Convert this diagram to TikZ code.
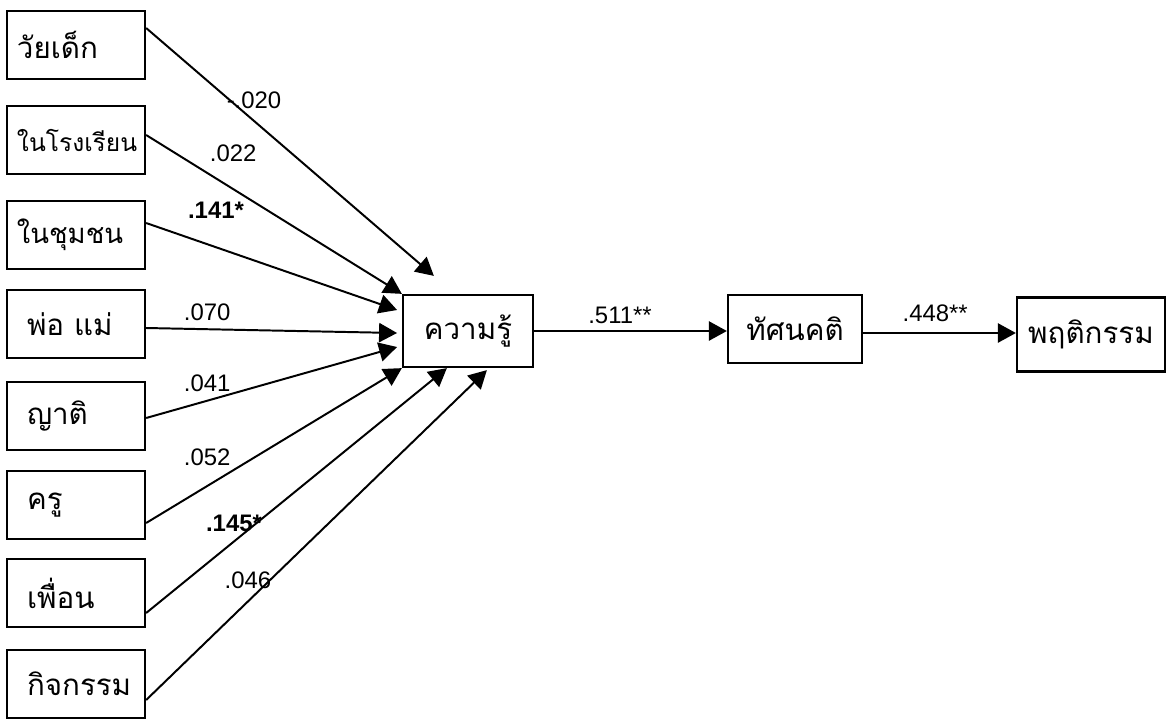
\documentclass[tikz,border=0pt]{standalone}
\usepackage{fontspec}
\setmainfont{Liberation Sans}
\newfontfamily\thai[Script=Thai]{Loma}
\usepackage{tikz}
\usetikzlibrary{arrows.meta}
\usepackage{xcolor}

\tikzset{
  srcbox/.style={draw,line width=1.6pt,minimum height=1.7cm,text width=2.95cm,
    inner xsep=0.25cm,align=left,font=\thai\fontsize{21}{24}\selectfont},
  lowbox/.style={srcbox,text width=2.45cm,inner xsep=0.5cm},
  varbox/.style={draw,line width=1.6pt,minimum height=1.8cm,
    font=\thai\fontsize{21}{24}\selectfont},
  path/.style={line width=1.4pt,-{Triangle[length=0.45cm,width=0.48cm]}},
  coef/.style={font=\fontsize{17}{20}\selectfont}
}

\begin{document}
\begin{tikzpicture}
  \useasboundingbox (0,0) rectangle (29.25,-17.95);
  % sources of knowledge
  \node[srcbox,minimum width=3.45cm] (child) at (1.9,-1.125) {วัยเด็ก};
  \node[srcbox,minimum width=3.45cm,font=\thai\fontsize{17.5}{20}\selectfont] (school) at (1.9,-3.5) {ในโรงเรียน};
  \node[srcbox,minimum width=3.45cm,font=\thai\fontsize{19.5}{22}\selectfont] (commun) at (1.9,-5.875) {ในชุมชน};
  \node[lowbox,minimum width=3.45cm] (parent) at (1.9,-8.1) {พ่อ แม่};
  \node[lowbox,minimum width=3.45cm] (kin) at (1.9,-10.4) {ญาติ};
  \node[lowbox,minimum width=3.45cm] (teach) at (1.9,-12.625) {ครู};
  \node[lowbox,minimum width=3.45cm] (friend) at (1.9,-14.825) {เพื่อน};
  \node[lowbox,minimum width=3.45cm] (activ) at (1.9,-17.1) {กิจกรรม};
  % chain
  \node[varbox,minimum width=3.25cm] (know) at (11.7,-8.275) {ความรู้};
  \node[varbox,minimum width=3.35cm,minimum height=1.7cm] (att) at (19.875,-8.225) {ทัศนคติ};
  \node[varbox,minimum width=3.7cm,minimum height=1.85cm] (behav) at (27.275,-8.36) {พฤติกรรม};
  % paths into knowledge
  \draw[path] ([yshift=0.425cm]child.east) -- ([xshift=0.8cm,yshift=0.45cm]know.north west);
  \draw[path] ([yshift=0.125cm]school.east) -- (know.north west);
  \draw[path] ([yshift=0.3cm]commun.east) -- ([xshift=-0.12cm,yshift=0.525cm]know.west);
  \draw[path] ([yshift=-0.1cm]parent.east) -- ([xshift=-0.12cm,yshift=-0.05cm]know.west);
  \draw[path] ([yshift=-0.05cm]kin.east) -- ([xshift=-0.12cm,yshift=-0.4cm]know.west);
  \draw[path] ([yshift=-0.45cm]teach.east) -- (know.south west);
  \draw[path] ([yshift=-0.5cm]friend.east) -- ([xshift=1.125cm]know.south west);
  \draw[path] ([yshift=-0.4cm]activ.east) -- ([xshift=2.125cm,yshift=-0.05cm]know.south west);
  \draw[path] (know.east) -- (know.east -| att.west);
  \draw[path] ([yshift=-0.1cm]att.east) -- ([yshift=-0.1cm]att.east -| behav.west);
  % coefficients
  \node[coef] (cchild) at (6.35,-2.5) {-.020};
  \node[coef] (cschool) at (5.83,-3.83) {.022};
  \node[coef] (ccommun) at (5.4,-5.25) {\bfseries .141*};
  \node[coef] (cparent) at (5.18,-7.8) {.070};
  \node[coef] (ckin) at (5.18,-9.58) {.041};
  \node[coef] (cteach) at (5.18,-11.43) {.052};
  \node[coef] (cfriend) at (5.85,-13.08) {\bfseries .145*};
  \node[coef] (cactiv) at (6.2,-14.5) {.046};
  \node[coef] (cknow) at (15.5,-7.875) {.511**};
  \node[coef] (catt) at (23.38,-7.83) {.448**};
\end{tikzpicture}
\end{document}
